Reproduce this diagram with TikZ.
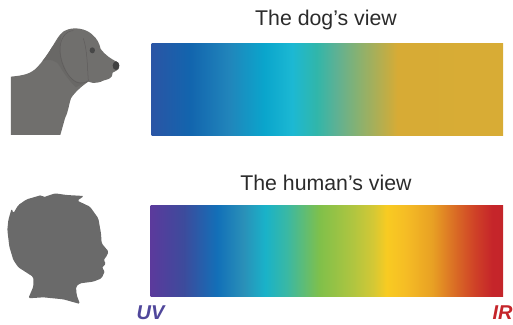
\documentclass[tikz,border=0pt]{standalone}
\usepackage{fontspec}
\setmainfont{Liberation Sans}
\pgfdeclarehorizontalshading{dogview}{100bp}{
rgb(0bp)=(0.165,0.333,0.647);
rgb(25bp)=(0.165,0.333,0.647);
rgb(30.5bp)=(0.071,0.396,0.682);
rgb(36bp)=(0.129,0.522,0.733);
rgb(41bp)=(0.039,0.647,0.800);
rgb(45bp)=(0.110,0.722,0.827);
rgb(48.5bp)=(0.192,0.714,0.667);
rgb(51.35bp)=(0.373,0.694,0.576);
rgb(54.15bp)=(0.522,0.694,0.451);
rgb(57.5bp)=(0.702,0.682,0.314);
rgb(60bp)=(0.843,0.671,0.208);
rgb(75bp)=(0.847,0.675,0.208);
rgb(100bp)=(0.847,0.675,0.208)}
\pgfdeclarehorizontalshading{humanview}{100bp}{
rgb(0bp)=(0.357,0.227,0.612);
rgb(25bp)=(0.357,0.227,0.612);
rgb(29.7bp)=(0.239,0.294,0.612);
rgb(34.5bp)=(0.071,0.439,0.722);
rgb(38.2bp)=(0.165,0.565,0.722);
rgb(41.25bp)=(0.098,0.698,0.788);
rgb(44.35bp)=(0.227,0.722,0.643);
rgb(49bp)=(0.502,0.753,0.290);
rgb(53.75bp)=(0.690,0.773,0.251);
rgb(56.6bp)=(0.831,0.784,0.208);
rgb(58.5bp)=(0.973,0.796,0.133);
rgb(61.3bp)=(0.961,0.737,0.145);
rgb(65bp)=(0.910,0.627,0.141);
rgb(68.3bp)=(0.851,0.416,0.145);
rgb(71bp)=(0.812,0.255,0.153);
rgb(73.5bp)=(0.773,0.145,0.165);
rgb(75bp)=(0.769,0.145,0.165);
rgb(100bp)=(0.769,0.145,0.165)}
\definecolor{dogfur}{HTML}{706F6D}
\definecolor{dogline}{HTML}{696866}
\definecolor{dogear}{HTML}{5F5C5C}
\definecolor{humangrey}{HTML}{6A6A6A}
\definecolor{uvcol}{HTML}{50479B}
\definecolor{ircol}{HTML}{C5252A}
\definecolor{titlecol}{HTML}{2B2B2B}
\tikzset{
  viewtitle/.style={font=\fontsize{21.3}{24}\selectfont,text=titlecol,inner sep=0pt,anchor=base},
  endlabel/.style={font=\fontsize{20}{24}\selectfont\bfseries\itshape,inner sep=0pt,anchor=base},
}
\begin{document}
\begin{tikzpicture}[x=1pt,y=-1pt]
\useasboundingbox (0,0) rectangle (513,324);
% spectra
\shade[shading=dogview] (151.7,43) rectangle (503,135);
\shade[shading=humanview] (150.5,205.5) rectangle (503,296);
% titles
\node[viewtitle] (dogtitle) at (326,25) {The dog’s view};
\node[viewtitle] (humantitle) at (326,190.5) {The human’s view};
\node[endlabel,text=uvcol] (uv) at (150.5,319.5) {UV};
\node[endlabel,text=ircol] (ir) at (502.5,319.5) {IR};
% dog
\begin{scope}[shift={(0,10)},x=0.3333pt,y=-0.3333pt]
\fill[dogfur] (33,200) .. controls (60,197) and (85,195) .. (105,178)
  .. controls (125,160) and (145,130) .. (160,105)
  .. controls (175,80) and (185,62) .. (205,58)
  .. controls (225,52) and (255,55) .. (275,72)
  .. controls (292,86) and (298,100) .. (302,117)
  .. controls (315,135) and (335,148) .. (350,155)
  .. controls (358,158) and (360,170) .. (355,178)
  .. controls (350,185) and (342,183) .. (338,188)
  .. controls (338,205) and (325,208) .. (312,211)
  .. controls (300,218) and (280,222) .. (265,215)
  .. controls (250,225) and (225,245) .. (213,265)
  .. controls (205,290) and (205,305) .. (195,325)
  -- (181,375) -- (33,375) -- cycle;
% neck shade
\begin{scope}
\clip (33,200) .. controls (60,197) and (85,195) .. (105,178)
  .. controls (125,160) and (145,130) .. (160,105)
  .. controls (175,80) and (185,62) .. (205,58) -- (265,215)
  .. controls (250,225) and (225,245) .. (213,265) -- (33,375) -- cycle;
\fill[dogline] (170,95) -- (120,155)
  .. controls (150,145) and (170,150) .. (180,170)
  .. controls (195,195) and (210,215) .. (228,232) -- (262,215)
  .. controls (240,222) and (215,215) .. (200,185)
  .. controls (185,155) and (175,125) .. (185,72) -- cycle;
\end{scope}
% ear
\draw[dogear,line width=0.5pt] (220,62) .. controls (195,62) and (178,90) .. (180,125)
  .. controls (182,165) and (205,205) .. (230,217)
  .. controls (245,222) and (258,218) .. (265,212)
  .. controls (262,170) and (262,120) .. (250,85);
% eye and nose
\fill[black!72] (277,121) ellipse (8 and 9);
\fill[black!75] (348,167) ellipse (10 and 13);
\end{scope}
% human
\begin{scope}[shift={(0,180)},x=0.3333pt,y=-0.3333pt]
\fill[humangrey,rounded corners=1.5pt] (85,355) -- (100,320) -- (100,291) -- (80,278) -- (55,262) -- (40,240)
  -- (28,200) -- (22,150) -- (25,120) -- (35,85) -- (40,100) -- (55,75) -- (80,58) -- (125,45) -- (130,52)
  -- (165,40) -- (200,45) -- (252,48) -- (232,62) -- (270,80) -- (295,115) -- (303,160) -- (305,190)
  -- (326,215) -- (318,232) -- (310,240) -- (318,250) -- (305,265) -- (315,272) -- (305,295) -- (280,305)
  -- (240,310) -- (228,320) -- (230,345) -- (240,372) -- (190,358) -- (130,352) -- cycle;
\end{scope}
\end{tikzpicture}
\end{document}
